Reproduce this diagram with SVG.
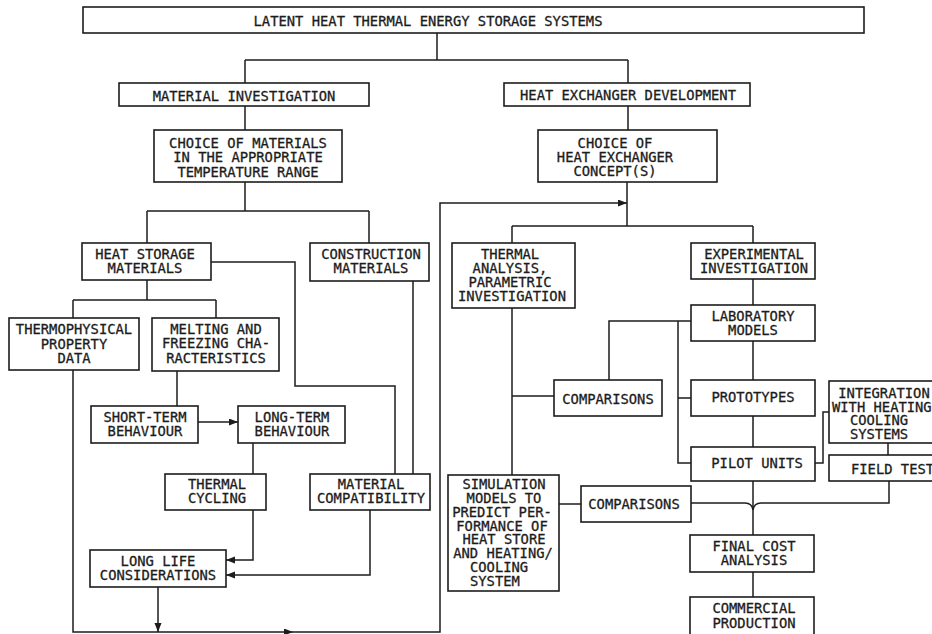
<svg xmlns="http://www.w3.org/2000/svg" width="932" height="634" viewBox="0 0 932 634">
<style>
.b{fill:#fff;stroke:#1c1c1c;stroke-width:1.6}
.c{fill:none;stroke:#1c1c1c;stroke-width:1.5}
text{font-family:"DejaVu Sans Mono","Liberation Mono",monospace;font-size:13.8px;fill:#1c1c1c;stroke:#1c1c1c;stroke-width:0.3;text-anchor:middle}
</style>
<defs>
<marker id="ah" markerUnits="userSpaceOnUse" markerWidth="10" markerHeight="8" refX="9" refY="3.5" orient="auto">
<path d="M0,0 L9,3.5 L0,7 z" fill="#1c1c1c"/>
</marker>
</defs>
<rect width="932" height="634" fill="#fff"/>

<g id="connectors">
<path class="c" d="M437,33 V60 M245,60 H628 M245,60 V83 M628,60 V83"/>
<path class="c" d="M245,106 V130 M245,182 V211 M147,211 H369 M147,211 V243 M369,211 V243"/>
<path class="c" d="M147,280 V300 M73,300 H216 M73,300 V318 M216,300 V318"/>
<path class="c" d="M211,262 H295 V386 H395 V474"/>
<path class="c" d="M413,281 V474"/>
<path class="c" d="M177,371 V406"/>
<path class="c" d="M198,422 H238" marker-end="url(#ah)"/>
<path class="c" d="M253,443 V474"/>
<path class="c" d="M253,510 V560 H226" marker-end="url(#ah)"/>
<path class="c" d="M370,510 V575 H226" marker-end="url(#ah)"/>
<path class="c" d="M158,587 V632" marker-end="url(#ah)"/>
<path class="c" d="M73,370 V632 H293" marker-end="url(#ah)"/>
<path class="c" d="M293,632 H440 V203 H627" marker-end="url(#ah)"/>
<path class="c" d="M628,106 V130 M627,182 V226 M512,226 H753 M512,226 V243 M753,226 V243"/>
<path class="c" d="M512,308 V475 M512,396 H554"/>
<path class="c" d="M753,279 V305 M753,341 V380 M753,416 V447"/>
<path class="c" d="M609,380 V321 H691 M678,321 V463 H691 M678,398 H691"/>
<path class="c" d="M815,463 H823 V412 H829"/>
<path class="c" d="M888,443 V455"/>
<path class="c" d="M559,504 H581"/>
<path class="c" d="M753,481 V535"/>
<path class="c" d="M691,503 H745 Q752,503 753,510"/>
<path class="c" d="M889,481 V503 H761 Q754,503 753,510"/>
<path class="c" d="M753,572 V597"/>
</g>

<g id="title"><rect class="b" x="83" y="7" width="781" height="26"/><text x="428" y="26">LATENT HEAT THERMAL ENERGY STORAGE SYSTEMS</text></g>
<g id="material-investigation"><rect class="b" x="119" y="83" width="250" height="23"/><text x="244" y="101">MATERIAL INVESTIGATION</text></g>
<g id="hx-development"><rect class="b" x="504" y="83" width="246" height="23"/><text x="628" y="100">HEAT EXCHANGER DEVELOPMENT</text></g>
<g id="choice-materials"><rect class="b" x="154" y="130" width="188" height="52"/><text x="248" y="148">CHOICE OF MATERIALS</text><text x="248" y="162">IN THE APPROPRIATE</text><text x="248" y="177">TEMPERATURE RANGE</text></g>
<g id="choice-hx"><rect class="b" x="538" y="130" width="179" height="52"/><text x="615" y="148">CHOICE OF</text><text x="615" y="162">HEAT EXCHANGER</text><text x="615" y="176">CONCEPT(S)</text></g>
<g id="heat-storage-materials"><rect class="b" x="82" y="243" width="129" height="37"/><text x="145" y="259">HEAT STORAGE</text><text x="145" y="273">MATERIALS</text></g>
<g id="construction-materials"><rect class="b" x="310" y="243" width="119" height="38"/><text x="371" y="259">CONSTRUCTION</text><text x="371" y="273">MATERIALS</text></g>
<g id="thermophysical"><rect class="b" x="9" y="318" width="130" height="52"/><text x="74" y="334">THERMOPHYSICAL</text><text x="74" y="349">PROPERTY</text><text x="74" y="363">DATA</text></g>
<g id="melting"><rect class="b" x="152" y="318" width="127" height="53"/><text x="216" y="334">MELTING AND</text><text x="216" y="348">FREEZING CHA-</text><text x="216" y="363">RACTERISTICS</text></g>
<g id="short-term"><rect class="b" x="91" y="406" width="107" height="37"/><text x="145" y="422">SHORT-TERM</text><text x="145" y="436">BEHAVIOUR</text></g>
<g id="long-term"><rect class="b" x="238" y="406" width="107" height="37"/><text x="292" y="422">LONG-TERM</text><text x="292" y="436">BEHAVIOUR</text></g>
<g id="thermal-cycling"><rect class="b" x="165" y="474" width="101" height="36"/><text x="217" y="489">THERMAL</text><text x="217" y="503">CYCLING</text></g>
<g id="material-compatibility"><rect class="b" x="310" y="474" width="120" height="36"/><text x="371" y="489">MATERIAL</text><text x="371" y="503">COMPATIBILITY</text></g>
<g id="long-life"><rect class="b" x="90" y="550" width="136" height="37"/><text x="158" y="566">LONG LIFE</text><text x="158" y="580">CONSIDERATIONS</text></g>
<g id="thermal-analysis"><rect class="b" x="452" y="243" width="123" height="65"/><text x="510" y="259">THERMAL</text><text x="510" y="273">ANALYSIS,</text><text x="510" y="287">PARAMETRIC</text><text x="512" y="301">INVESTIGATION</text></g>
<g id="experimental"><rect class="b" x="691" y="243" width="124" height="36"/><text x="754" y="259">EXPERIMENTAL</text><text x="754" y="273">INVESTIGATION</text></g>
<g id="laboratory"><rect class="b" x="691" y="305" width="124" height="36"/><text x="753" y="321">LABORATORY</text><text x="753" y="335">MODELS</text></g>
<g id="comparisons-1"><rect class="b" x="554" y="380" width="108" height="36"/><text x="608" y="404">COMPARISONS</text></g>
<g id="prototypes"><rect class="b" x="691" y="380" width="124" height="36"/><text x="753" y="402">PROTOTYPES</text></g>
<g id="integration"><rect class="b" x="829" y="381" width="130" height="62"/><text x="884" y="398">INTEGRATION</text><text x="886" y="412">WITH HEATING/</text><text x="879" y="425">COOLING</text><text x="879" y="439">SYSTEMS</text></g>
<g id="pilot-units"><rect class="b" x="691" y="447" width="124" height="34"/><text x="757" y="468">PILOT UNITS</text></g>
<g id="field-tests"><rect class="b" x="829" y="455" width="130" height="26"/><text x="851" y="474" style="text-anchor:start">FIELD TESTS</text></g>
<g id="simulation"><rect class="b" x="448" y="475" width="111" height="116"/><text x="504" y="489">SIMULATION</text><text x="504" y="503">MODELS TO</text><text x="502" y="517">PREDICT PER-</text><text x="502" y="531">FORMANCE OF</text><text x="504" y="544">HEAT STORE</text><text x="503" y="558">AND HEATING/</text><text x="470" y="572" style="text-anchor:start">COOLING</text><text x="470" y="586" style="text-anchor:start">SYSTEM</text></g>
<g id="comparisons-2"><rect class="b" x="581" y="486" width="110" height="36"/><text x="634" y="509">COMPARISONS</text></g>
<g id="final-cost"><rect class="b" x="690" y="535" width="124" height="37"/><text x="754" y="551">FINAL COST</text><text x="754" y="565">ANALYSIS</text></g>
<g id="commercial"><rect class="b" x="690" y="597" width="124" height="50"/><text x="754" y="613">COMMERCIAL</text><text x="754" y="628">PRODUCTION</text></g>
</svg>
